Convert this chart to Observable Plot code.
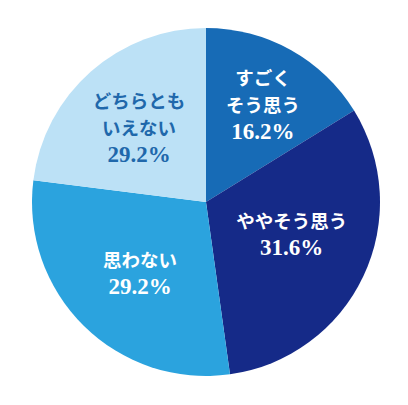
<!DOCTYPE html>
<html><head><meta charset="utf-8">
<script src="https://cdn.jsdelivr.net/npm/d3@7"></script>
<script src="https://cdn.jsdelivr.net/npm/@observablehq/plot@0.6"></script>
<style>html,body{margin:0;padding:0;background:#fff}svg{display:block}</style>
</head><body><div id="chart"></div>
<script>
// Data
const categories = ["すごくそう思う", "ややそう思う", "思わない", "どちらともいえない"];
const labelLines = ["すごく\nそう思う", "ややそう思う", "思わない", "どちらとも\nいえない"];
const shares = [16.2, 31.6, 29.2, 23.0];          // share of the circle as drawn
const percentLabels = ["16.2%", "31.6%", "29.2%", "29.2%"]; // text printed on the slices

// Styles / layout
const sliceColors = ["#176bb6", "#152a88", "#2ba3de", "#bce1f6"];
const labelColors = ["#ffffff", "#ffffff", "#ffffff", "#1f68ab"];
const labelNudgePx = [[9, 1], [-3, -9.5], [2, 1.5], [-3, 12]]; // label offsets from the slice centroid

const W = 408, H = 405, mL = 32, mR = 28, mT = 28, mB = 29;
const pxPerUnit = (W - mL - mR) / 2;

const color = Plot.scale({color: {type: "ordinal", domain: categories, range: sliceColors}});
const textColor = Plot.scale({color: {type: "ordinal", domain: categories, range: labelColors}});

const arcs = d3.pie().sort(null).value(d => d)(shares);
const labelRadius = 0.56;
const rows = categories.map((c, i) => {
  const a = (arcs[i].startAngle + arcs[i].endAngle) / 2;
  return {
    cat: c,
    jp: labelLines[i],
    pct: percentLabels[i],
    value: shares[i],
    start: arcs[i].startAngle,
    end: arcs[i].endAngle,
    lx: labelRadius * Math.sin(a) + labelNudgePx[i][0] / pxPerUnit,
    ly: labelRadius * Math.cos(a) - labelNudgePx[i][1] / pxPerUnit,
    tc: textColor.apply(c)
  };
});

function pieMark(data) {
  return (index, scales) => {
    const cx = scales.x(0), cy = scales.y(0);
    const r = scales.x(1) - scales.x(0);
    const arc = d3.arc().innerRadius(0).outerRadius(r);
    const g = d3.create("svg:g").attr("transform", `translate(${cx},${cy})`);
    g.selectAll("path").data(data).join("path")
      .attr("d", d => arc({startAngle: d.start, endAngle: d.end}))
      .attr("fill", d => color.apply(d.cat));
    return g.node();
  };
}

const jpFont = "'Noto Sans CJK JP', sans-serif";
const numFont = "'Liberation Serif', 'DejaVu Serif', serif";

const chart = Plot.plot({
  width: W,
  height: H,
  marginLeft: mL, marginRight: mR, marginTop: mT, marginBottom: mB,
  x: {domain: [-1, 1], axis: null},
  y: {domain: [-1, 1], axis: null},
  style: {background: "#fff"},
  marks: [
    pieMark(rows),
    Plot.text(rows, {
      x: "lx", y: "ly", text: "jp", fill: d => d.tc,
      lineAnchor: "bottom", dy: -6, lineHeight: 1.47,
      fontSize: 18.5, fontWeight: 700, fontFamily: jpFont
    }),
    Plot.text(rows, {
      x: "lx", y: "ly", text: "pct", fill: d => d.tc,
      lineAnchor: "middle", dy: 13,
      fontSize: 23, fontWeight: 700, fontFamily: numFont
    })
  ]
});
document.getElementById("chart").appendChild(chart);
</script>
</body></html>
